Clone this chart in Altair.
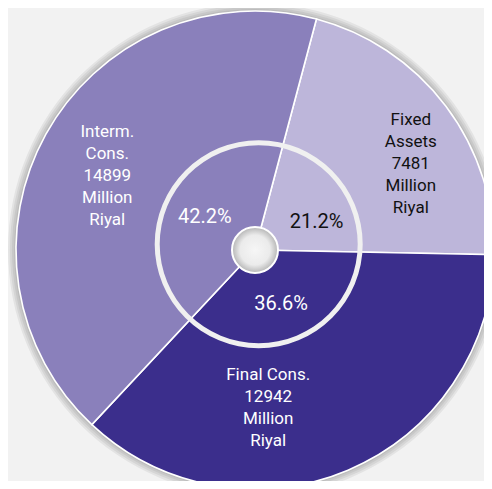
import math
import altair as alt
import pandas as pd

# ---- data ----
categories = ["Fixed Assets", "Final Cons.", "Interm. Cons."]
display_names = ["Fixed\nAssets", "Final Cons.", "Interm.\nCons."]
values = [7481, 12942, 14899]          # Million Riyal
unit = "Million\nRiyal"
slice_colors = ["#bdb6da", "#3b2e8c", "#8a80bb"]
pct_colors = ["#111111", "#ffffff", "#ffffff"]
label_colors = ["#111111", "#ffffff", "#ffffff"]

df = pd.DataFrame({
    "cat": categories,
    "name": display_names,
    "value": values,
    "o": list(range(len(categories))),
})

# ---- layout constants ----
W, H = 476, 473
CX, CY = 247, 242          # pie centre (chart coords)
R = 239                    # pie radius
START = 0.26               # start angle (rad, clockwise from 12 o'clock)
TWO_PI = 2 * math.pi
BG = "#f2f2f2"
FONT = "Roboto"

base = alt.Chart(df).transform_joinaggregate(
    total="sum(value)"
).transform_window(
    cum="sum(value)", sort=[alt.SortField("o")], frame=[None, 0]
).transform_calculate(
    t1=f"{START} + {TWO_PI} * datum.cum / datum.total",
).transform_calculate(
    t0=f"datum.t1 - {TWO_PI} * datum.value / datum.total",
).transform_calculate(
    mid="(datum.t0 + datum.t1) / 2",
    pct="format(datum.value / datum.total, '.1%')",
    label=f"datum.name + '\\n' + datum.value + '\\n' + '{unit.replace(chr(10), '\\n')}'",
).transform_calculate(
    lx=f"{CX} + 170 * sin(datum.mid)",
    ly=f"{CY} - 170 * cos(datum.mid)",
    px=f"{CX} + 62 * sin(datum.mid)",
    py=f"{CY} - 62 * cos(datum.mid)",
)

color_scale = alt.Scale(domain=categories, range=slice_colors)

# soft shadow around the pie
dummy = alt.Chart(pd.DataFrame({"a": [0]}))
shadows = [
    dummy.mark_arc(fill="#000000", opacity=0.06).encode(
        x=alt.value(CX), y=alt.value(CY),
        theta=alt.value(0), theta2=alt.value(TWO_PI),
        radius=alt.value(R + d), radius2=alt.value(R - 1),
    )
    for d in (2, 4, 6, 8)
]

pie = base.mark_arc(stroke="white", strokeWidth=1.6).encode(
    x=alt.value(CX), y=alt.value(CY),
    theta=alt.Theta("t0:Q", scale=None),
    theta2="t1:Q",
    radius=alt.value(R),
    color=alt.Color("cat:N", scale=color_scale, legend=None),
)

ring = dummy.mark_arc(fill="#f0f0f0").encode(
    x=alt.value(CX + 3.7), y=alt.value(CY - 5.8),
    theta=alt.value(0), theta2=alt.value(TWO_PI),
    radius=alt.value(104), radius2=alt.value(99),
)

hub = dummy.mark_arc(
    fill=alt.RadialGradient(
        gradient="radial",
        stops=[
            alt.GradientStop(offset=0, color="#f6f6f6"),
            alt.GradientStop(offset=0.65, color="#ebebeb"),
            alt.GradientStop(offset=1, color="#b5b5b5"),
        ],
    ),
    stroke="white", strokeWidth=2,
).encode(
    x=alt.value(CX), y=alt.value(CY),
    theta=alt.value(0), theta2=alt.value(TWO_PI),
    radius=alt.value(23),
)

pct_offsets = {"Fixed Assets": (12, 9), "Final Cons.": (2, -3), "Interm. Cons.": (4, -3)}
lab_offsets = {"Fixed Assets": (20, -28), "Final Cons.": (-53, -32), "Interm. Cons.": (1, -36)}

texts = []
for i, c in enumerate(categories):
    dx, dy = pct_offsets[c]
    texts.append(
        base.transform_filter(alt.datum.cat == c).mark_text(
            font=FONT, fontSize=20, color=pct_colors[i], dx=dx, dy=dy,
            align="center", baseline="middle",
        ).encode(
            x=alt.X("px:Q", scale=None, axis=None),
            y=alt.Y("py:Q", scale=None, axis=None),
            text="pct:N",
        )
    )
    dx, dy = lab_offsets[c]
    texts.append(
        base.transform_filter(alt.datum.cat == c).mark_text(
            font=FONT, fontSize=17, color=label_colors[i], dx=dx, dy=dy,
            align="center", baseline="middle", lineBreak="\n", lineHeight=22,
        ).encode(
            x=alt.X("lx:Q", scale=None, axis=None),
            y=alt.Y("ly:Q", scale=None, axis=None),
            text="label:N",
        )
    )

chart = alt.layer(*shadows, pie, ring, hub, *texts).properties(
    width=W, height=H, background=BG,
    autosize=alt.AutoSizeParams(type="none"), padding=0,
).configure_view(stroke=None)

chart.save("out.html", embed_options={"renderer": "svg", "actions": False})
